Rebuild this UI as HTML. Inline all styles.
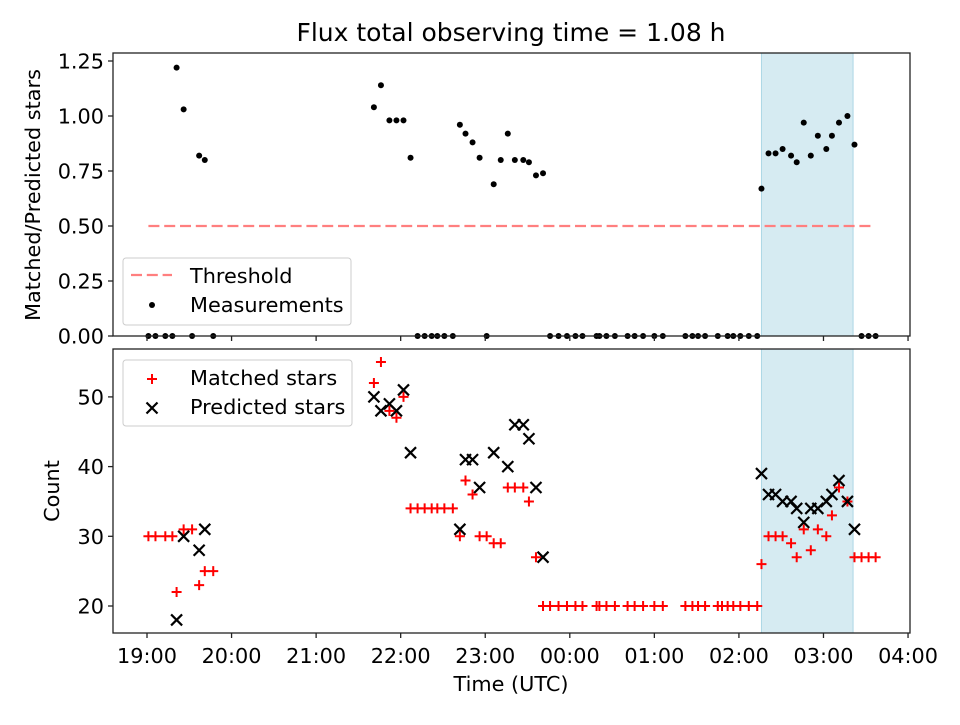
<!DOCTYPE html>
<html><head><meta charset="utf-8"><style>
body{margin:0;background:#fff;width:960px;height:720px;overflow:hidden}
svg{font-family:"DejaVu Sans","Liberation Sans",sans-serif}
</style></head><body>
<svg id="c" width="960" height="720"></svg>
<script>
const ratioTimes=[21,26,37,41,161,166,172,177,182,187,222,226,231,236,246,251,256,261,267,271,276,281,436,441,446,451,457,461,466,471,476,482,486,491,497,502];
const ratioVals=[1.22,1.03,0.82,0.80,1.04,1.14,0.98,0.98,0.98,0.81,0.96,0.92,0.88,0.81,0.69,0.80,0.92,0.80,0.80,0.79,0.73,0.74,0.67,0.83,0.83,0.85,0.82,0.79,0.97,0.82,0.91,0.85,0.91,0.97,1.00,0.87];
const zeroTimes=[1,6,13,18,32,47,192,197,202,206,211,217,241,286,292,298,304,309,319,321,326,332,341,346,352,360,366,382,387,391,396,405,412,416,421,427,433,507,512,517];
const matchedTimes=[1,6,13,18,21,26,32,37,41,47,161,166,172,177,182,187,192,197,202,206,211,217,222,226,231,236,241,246,251,256,261,267,271,276,281,286,292,298,304,309,319,321,326,332,341,346,352,360,366,382,387,391,396,405,408,412,416,421,427,433,436,441,446,451,457,461,466,471,476,482,486,491,497,502,507,512,517];
const matchedVals=[30,30,30,30,22,31,31,23,25,25,52,55,48,47,50,34,34,34,34,34,34,34,30,38,36,30,30,29,29,37,37,37,35,27,20,20,20,20,20,20,20,20,20,20,20,20,20,20,20,20,20,20,20,20,20,20,20,20,20,20,26,30,30,30,29,27,31,28,31,30,33,37,35,27,27,27,27];
const predTimes=[21,26,37,41,161,166,172,177,182,187,222,226,231,236,246,256,261,267,271,276,281,436,441,446,451,457,461,466,471,476,482,486,491,497,502];
const predVals=[18,30,28,31,50,48,49,48,51,42,31,41,41,37,42,40,46,46,44,37,27,39,36,36,35,35,34,32,34,34,35,36,38,35,31];
const threshold=0.5, threshStart=1, threshEnd=516;
const shadeStart=436, shadeEnd=501;
const xTickLabels=["19:00","20:00","21:00","22:00","23:00","00:00","01:00","02:00","03:00","04:00"];
const topTicks=[0,0.25,0.5,0.75,1.0,1.25];
const botTicks=[20,30,40,50];

const svg=document.getElementById('c');
const NS='http://www.w3.org/2000/svg';
function mk(tag,attrs,parent){const e=document.createElementNS(NS,tag);for(const k in attrs)e.setAttribute(k,attrs[k]);(parent||svg).appendChild(e);return e;}
const L=113,R=910,T1=53,B1=336,T2=349,B2=633;
const FS=20.8;
const X=m=>147+m/60*84.56;
const Y1=v=>336-v*220;
const Y2=v=>606-(v-20)*6.97;

for(const [t,b,n] of [[T1,B1,'top'],[T2,B2,'bottom']]){
 const r=mk('rect',{x:X(shadeStart),y:t,width:X(shadeEnd)-X(shadeStart),height:b-t,fill:'#add8e6','fill-opacity':0.5,stroke:'#add8e6'});
 
 
}
const th=mk('line',{x1:X(threshStart),x2:X(threshEnd),y1:Y1(threshold),y2:Y1(threshold),stroke:'#ff7f7f','stroke-width':2.2,'stroke-dasharray':'11,4.8'});


ratioTimes.forEach((t,i)=>{const c=mk('circle',{cx:X(t),cy:Y1(ratioVals[i]),r:3,fill:'#000'});
 
 });
zeroTimes.forEach(t=>{const c=mk('circle',{cx:X(t),cy:Y1(0),r:3,fill:'#000'});
 
 });
function plus(x,y,name){const g=mk('path',{d:`M${x-5},${y}H${x+5}M${x},${y-5}V${y+5}`,stroke:'#f00','stroke-width':2,fill:'none'});
 
 return g;}
function cross(x,y,name){const g=mk('path',{d:`M${x-5.5},${y-5.5}L${x+5.5},${y+5.5}M${x-5.5},${y+5.5}L${x+5.5},${y-5.5}`,stroke:'#000','stroke-width':2.2,fill:'none'});
 
 return g;}
matchedTimes.forEach((t,i)=>plus(X(t),Y2(matchedVals[i]),'matched-point'));
predTimes.forEach((t,i)=>cross(X(t),Y2(predVals[i]),'predicted-point'));

for(const [t,b,n] of [[T1,B1,'top'],[T2,B2,'bottom']]){
 const r=mk('rect',{x:L,y:t,width:R-L,height:b-t,fill:'none',stroke:'#222','stroke-width':1.3});
 
 
}
function txt(s,x,y,attrs,name){const e=mk('text',Object.assign({x:x,y:y,'font-size':FS,fill:'#000'},attrs||{}));e.textContent=s;
 
 return e;}
xTickLabels.forEach((s,i)=>{const x=X(i*60);
 mk('line',{x1:x,x2:x,y1:B1,y2:B1+5,stroke:'#222','stroke-width':1.3});
 mk('line',{x1:x,x2:x,y1:B2,y2:B2+5,stroke:'#222','stroke-width':1.3});
 txt(s,x,663,{'text-anchor':'middle'},'x-tick-label');});
topTicks.forEach(v=>{const y=Y1(v);mk('line',{x1:L-5,x2:L,y1:y,y2:y,stroke:'#222','stroke-width':1.3});
 txt(v.toFixed(2),L-9,y+7.5,{'text-anchor':'end'},'top-y-tick-label');});
botTicks.forEach(v=>{const y=Y2(v);mk('line',{x1:L-5,x2:L,y1:y,y2:y,stroke:'#222','stroke-width':1.3});
 txt(String(v),L-9,y+7.5,{'text-anchor':'end'},'bottom-y-tick-label');});
txt('Flux total observing time = 1.08 h',511,41,{'text-anchor':'middle','font-size':25},'chart-title');
txt('Time (UTC)',511,691,{'text-anchor':'middle'},'x-axis-title');
txt('Matched/Predicted stars',40,195,{'text-anchor':'middle',transform:'rotate(-90 40 195)'},'top-y-axis-title');
txt('Count',59,491,{'text-anchor':'middle',transform:'rotate(-90 59 491)'},'bottom-y-axis-title');

let lg=mk('rect',{x:123,y:258,width:228,height:67,rx:3,fill:'#fff','fill-opacity':0.8,stroke:'#ccc'});


mk('line',{x1:131,x2:172,y1:275,y2:275,stroke:'#ff7f7f','stroke-width':2.2,'stroke-dasharray':'11,4.8'});
txt('Threshold',190,283,{},'legend-threshold');
mk('circle',{cx:152,cy:305,r:3,fill:'#000'});
txt('Measurements',190,312,{},'legend-measurements');
lg=mk('rect',{x:123,y:360,width:229,height:66,rx:3,fill:'#fff','fill-opacity':0.8,stroke:'#ccc'});


plus(152,379,'legend-matched-marker');
cross(152,408,'legend-predicted-marker');
txt('Matched stars',190,385,{},'legend-matched');
txt('Predicted stars',190,414,{},'legend-predicted');
</script>
</body></html>
